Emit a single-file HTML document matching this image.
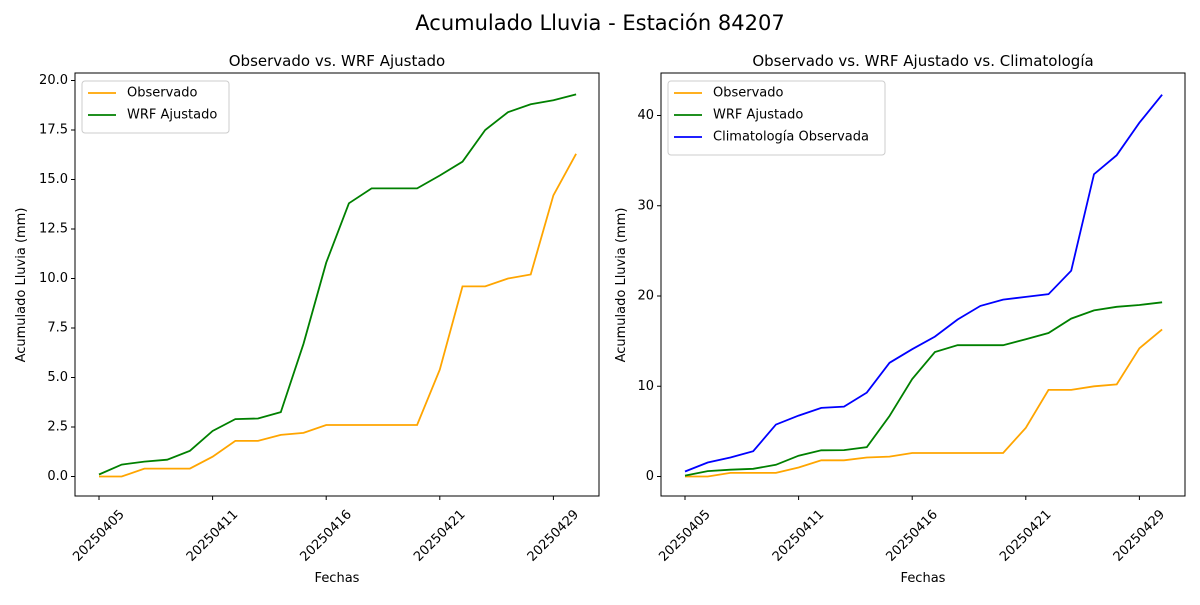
<!DOCTYPE html>
<html><head><meta charset="utf-8"><style>
body{margin:0;background:#fff}
svg text{font-family:"DejaVu Sans","Liberation Sans",sans-serif;fill:#000}
</style></head><body>
<svg id="s" width="1200" height="600" xmlns="http://www.w3.org/2000/svg"></svg>
<script>
const obs=[0,0,0.4,0.4,0.4,1.0,1.8,1.8,2.1,2.2,2.6,2.6,2.6,2.6,2.6,5.4,9.6,9.6,10.0,10.2,14.2,16.3];
const wrf=[0.1,0.6,0.75,0.85,1.3,2.3,2.9,2.93,3.25,6.7,10.8,13.8,14.55,14.55,14.55,15.2,15.9,17.5,18.4,18.8,19.0,19.3];
const cli=[0.55,1.55,2.1,2.8,5.75,6.75,7.6,7.75,9.3,12.6,14.1,15.5,17.4,18.9,19.6,19.9,20.2,22.8,33.5,35.6,39.2,42.3];
const dates=["20250405","20250411","20250416","20250421","20250429"];
let h='<text x="600" y="30" font-size="21" text-anchor="middle">Acumulado Lluvia - Estación 84207</text>';
function ax(x0,title,series,yticks,ppu,lbl,legend,ylx){
 const xs=i=>x0+24+i*22.72, ys=v=>476.5-v*ppu;
 h+=`<text x="${x0+262}" y="66" font-size="15" text-anchor="middle">${title}</text>`;
 series.forEach(([d,c])=>{h+=`<polyline fill="none" stroke="${c}" stroke-width="1.8" points="${d.map((v,i)=>xs(i).toFixed(1)+','+ys(v).toFixed(1)).join(' ')}"/>`;});
 h+=`<rect x="${x0}" y="73" width="524" height="423" fill="none" stroke="#000" stroke-width="1"/>`;
 for(let k=0;k<5;k++){const x=xs(k*5);h+=`<line x1="${x}" y1="496" x2="${x}" y2="500" stroke="#000"/><text transform="translate(${x},536) rotate(-45)" font-size="13" text-anchor="middle" dominant-baseline="central">${dates[k]}</text>`;}
 yticks.forEach(t=>{const y=ys(t);h+=`<line x1="${x0-4}" y1="${y}" x2="${x0}" y2="${y}" stroke="#000"/><text x="${x0-7}" y="${y}" font-size="13" text-anchor="end" dominant-baseline="central">${lbl(t)}</text>`;});
 h+=`<text x="${x0+262}" y="582" font-size="13" text-anchor="middle">Fechas</text>`;
 h+=`<text transform="translate(${ylx},285) rotate(-90)" font-size="13" text-anchor="middle">Acumulado Lluvia (mm)</text>`;
 const [w,items]=legend;const lh=items.length*22+8;
 h+=`<rect x="${x0+7}" y="81" width="${w}" height="${lh}" rx="3" fill="#fff" stroke="#ccc"/>`;
 items.forEach(([n,c],i)=>{const y=93+i*22;h+=`<line x1="${x0+13}" y1="${y}" x2="${x0+41}" y2="${y}" stroke="${c}" stroke-width="1.8"/><text x="${x0+52}" y="${y}" font-size="13" dominant-baseline="central">${n}</text>`;});
}
ax(75,"Observado vs. WRF Ajustado",[[obs,"orange"],[wrf,"green"]],[0,2.5,5,7.5,10,12.5,15,17.5,20],19.8,t=>t.toFixed(1),[147,[["Observado","orange"],["WRF Ajustado","green"]]],25);
ax(661,"Observado vs. WRF Ajustado vs. Climatología",[[obs,"orange"],[wrf,"green"],[cli,"blue"]],[0,10,20,30,40],9.025,t=>t,[217,[["Observado","orange"],["WRF Ajustado","green"],["Climatología Observada","blue"]]],625);
document.getElementById('s').innerHTML=h;
</script>
</body></html>
